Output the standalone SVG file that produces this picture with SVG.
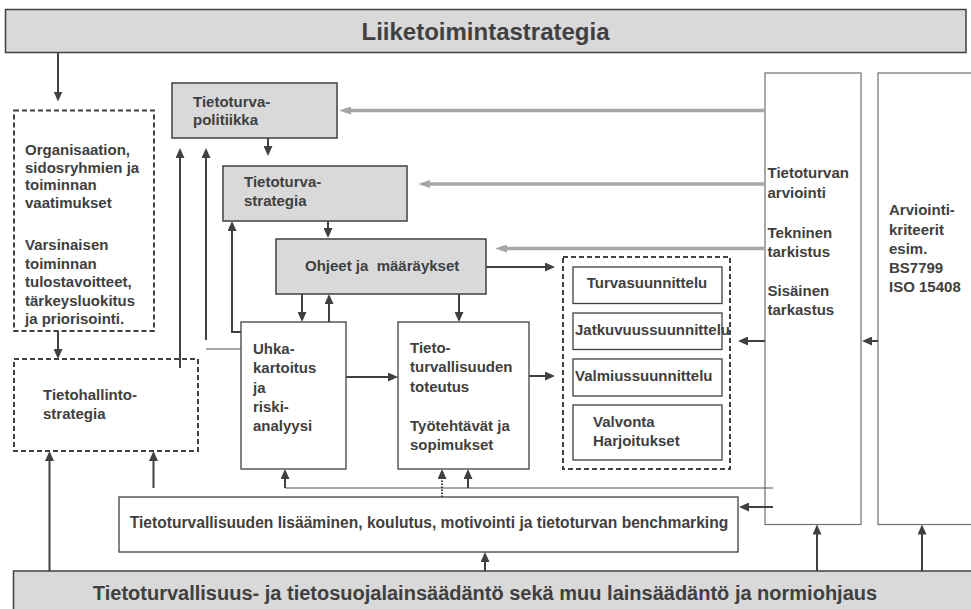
<svg xmlns="http://www.w3.org/2000/svg" width="971" height="609" viewBox="0 0 971 609">
<style>
text{font-family:"Liberation Sans",Arial,sans-serif;font-weight:bold;fill:#404040;font-size:15px}
.gray{fill:#d9d9d9;stroke:#404040;stroke-width:1.5}
.box{fill:#fff;stroke:#404040;stroke-width:1.3}
.tall{fill:#fff;stroke:#707070;stroke-width:1.2}
.dash{fill:#fff;stroke:#404040;stroke-width:2;stroke-dasharray:5,3}
.c{fill:none;stroke:#404040;stroke-width:2}
.thin{fill:none;stroke:#505050;stroke-width:1.2}
.g{fill:none;stroke:#a6a6a6;stroke-width:3.5}
</style>
<defs>
<marker id="ah" markerWidth="10" markerHeight="9" refX="7" refY="4.5" orient="auto" markerUnits="userSpaceOnUse"><path d="M0,0 L10,4.5 L0,9z" fill="#404040"/></marker>
<marker id="gh" markerWidth="12" markerHeight="8" refX="7" refY="4" orient="auto" markerUnits="userSpaceOnUse"><path d="M0,0 L12,4 L0,8z" fill="#a6a6a6"/></marker>
</defs>
<rect width="971" height="609" fill="#fff"/>

<g id="liiketoimintastrategia">
<rect class="gray" x="5.5" y="9.5" width="960.5" height="43"/>
<text x="485.5" y="40" text-anchor="middle" style="font-size:24px">Liiketoimintastrategia</text>
</g>

<g id="vaatimukset">
<rect class="dash" x="14" y="110.5" width="140" height="220.5"/>
<text x="25" y="155">Organisaation,</text>
<text x="25" y="172.5">sidosryhmien ja</text>
<text x="25" y="190">toiminnan</text>
<text x="25" y="207.5">vaatimukset</text>
<text x="25" y="250">Varsinaisen</text>
<text x="25" y="268.5">toiminnan</text>
<text x="25" y="287">tulostavoitteet,</text>
<text x="25" y="305.5">tärkeysluokitus</text>
<text x="25" y="324">ja priorisointi.</text>
</g>

<g id="tietohallintostrategia">
<rect class="dash" x="14" y="359" width="184" height="92"/>
<text x="43" y="400">Tietohallinto-</text>
<text x="43" y="418.5">strategia</text>
</g>

<g id="politiikka">
<rect class="gray" x="172" y="83" width="165" height="55"/>
<text x="193" y="107">Tietoturva-</text>
<text x="193" y="125">politiikka</text>
</g>

<g id="strategia">
<rect class="gray" x="223" y="166" width="184" height="55"/>
<text x="244" y="187">Tietoturva-</text>
<text x="244" y="206">strategia</text>
</g>

<g id="ohjeet">
<rect class="gray" x="276" y="239" width="210" height="55"/>
<text x="305" y="271" xml:space="preserve">Ohjeet ja  määräykset</text>
</g>

<g id="uhka">
<rect class="box" x="241" y="322" width="105" height="147"/>
<text x="253" y="353.5">Uhka-</text>
<text x="253" y="373">kartoitus</text>
<text x="253" y="392.5">ja</text>
<text x="253" y="412">riski-</text>
<text x="253" y="431">analyysi</text>
</g>

<g id="toteutus">
<rect class="box" x="398" y="322" width="131" height="147"/>
<text x="410" y="352.5">Tieto-</text>
<text x="410" y="372">turvallisuuden</text>
<text x="410" y="392">toteutus</text>
<text x="410" y="430.5">Työtehtävät ja</text>
<text x="410" y="449.5">sopimukset</text>
</g>

<g id="suunnittelu">
<rect class="dash" x="563" y="257" width="167" height="212"/>
<g id="turvasuunnittelu">
<rect class="box" x="573" y="267" width="149" height="36.5"/>
<text x="647" y="288" text-anchor="middle">Turvasuunnittelu</text>
</g>
<g id="jatkuvuussuunnittelu">
<rect class="box" x="573" y="313" width="149" height="36.5"/>
<text x="575" y="335">Jatkuvuussuunnittelu</text>
</g>
<g id="valmiussuunnittelu">
<rect class="box" x="573" y="359" width="149" height="37"/>
<text x="575" y="381">Valmiussuunnittelu</text>
</g>
<g id="valvonta">
<rect class="box" x="573" y="405" width="149" height="55"/>
<text x="593" y="427">Valvonta</text>
<text x="593" y="445.5">Harjoitukset</text>
</g>
</g>

<g id="arviointi">
<rect class="tall" x="765" y="73" width="96" height="451.5"/>
<text x="767.5" y="178">Tietoturvan</text>
<text x="767.5" y="197.5">arviointi</text>
<text x="767.5" y="237.5">Tekninen</text>
<text x="767.5" y="257">tarkistus</text>
<text x="767.5" y="295.5">Sisäinen</text>
<text x="767.5" y="315">tarkastus</text>
</g>

<g id="kriteerit">
<rect class="tall" x="878" y="73" width="110" height="451.5"/>
<text x="889" y="215">Arviointi-</text>
<text x="889" y="234.5">kriteerit</text>
<text x="889" y="254">esim.</text>
<text x="889" y="273">BS7799</text>
<text x="889" y="292">ISO 15408</text>
</g>

<g id="benchmarking">
<rect class="box" x="119" y="497" width="619" height="55"/>
<text x="429" y="527.5" text-anchor="middle" style="font-size:15.6px">Tietoturvallisuuden lisääminen, koulutus, motivointi ja tietoturvan benchmarking</text>
</g>

<g id="lainsaadanto">
<rect class="gray" x="13.5" y="571" width="965" height="45"/>
<text x="485" y="600" text-anchor="middle" style="font-size:20px">Tietoturvallisuus- ja tietosuojalainsäädäntö sekä muu lainsäädäntö ja normiohjaus</text>
</g>

<g id="connectors">
<path class="g" d="M765,110.5 H344" marker-end="url(#gh)"/>
<path class="g" d="M765,184 H423" marker-end="url(#gh)"/>
<path class="g" d="M765,248.5 H500" marker-end="url(#gh)"/>

<path class="c" d="M58,53 V98.5" marker-end="url(#ah)"/>
<path class="c" d="M268,138 V153" marker-end="url(#ah)"/>
<path class="c" d="M328,221 V235" marker-end="url(#ah)"/>
<path class="c" d="M486,267 H552" marker-end="url(#ah)"/>
<path class="c" d="M302,294 V319" marker-end="url(#ah)"/>
<path class="c" d="M329,322 V297" marker-end="url(#ah)"/>
<path class="c" d="M459,294 V319" marker-end="url(#ah)"/>
<path class="c" d="M346,377 H395" marker-end="url(#ah)"/>
<path class="c" d="M529,376 H552" marker-end="url(#ah)"/>
<path class="c" d="M58,331 V356" marker-end="url(#ah)"/>
<path class="c" d="M180,368 V151" marker-end="url(#ah)"/>
<path class="c" d="M206,340 V151" marker-end="url(#ah)"/>
<path class="thin" d="M206,349 H241"/>
<path class="c" d="M241,332 H232 V224" marker-end="url(#ah)"/>
<path class="c" d="M765,341 H741" marker-end="url(#ah)"/>
<path class="c" d="M878,341 H865" marker-end="url(#ah)"/>
<path class="c" d="M49.5,571 V454" marker-end="url(#ah)"/>
<path class="c" d="M153.5,488 V454" marker-end="url(#ah)"/>
<path class="thin" d="M285,488 H773"/>
<path class="c" d="M285,488 V472" marker-end="url(#ah)"/>
<path class="c" d="M468,488 V472" marker-end="url(#ah)"/>
<path class="c" d="M442,497 V472" stroke-dasharray="1.5,1.5" marker-end="url(#ah)"/>
<path class="c" d="M773,507 H742" marker-end="url(#ah)"/>
<path class="c" d="M485,571 V555" marker-end="url(#ah)"/>
<path class="c" d="M817,571 V527.5" marker-end="url(#ah)"/>
<path class="c" d="M922,571 V527.5" marker-end="url(#ah)"/>
</g>
</svg>
